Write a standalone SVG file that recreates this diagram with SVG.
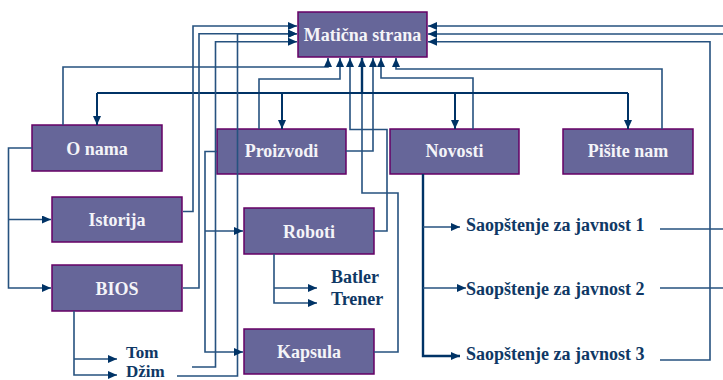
<svg xmlns="http://www.w3.org/2000/svg" width="723" height="380" viewBox="0 0 723 380">
<style>
.box{fill:#666699;stroke:#660066;stroke-width:1.5}
.bt{font-family:"Liberation Serif","Times New Roman",serif;font-weight:bold;font-size:18px;fill:#f4f4f8;text-anchor:middle}
.lb{font-family:"Liberation Serif","Times New Roman",serif;font-weight:bold;font-size:18px;fill:#0f3865}
.sm{font-size:17px}
.c{fill:none;stroke:#26527f;stroke-width:1.6}
.k{fill:none;stroke:#003366;stroke-width:2}
.kk{fill:none;stroke:#003366;stroke-width:2.4}
</style>
<defs>
<marker id="ah" markerWidth="9" markerHeight="8" refX="9" refY="4" orient="auto" markerUnits="userSpaceOnUse">
<path d="M0,0 L9,4 L0,8 z" fill="#003366"/>
</marker>
</defs>
<g id="maticna-strana">
<rect class="box" x="298" y="12" width="129" height="45"/>
<text class="bt" x="362.5" y="41">Matična strana</text>
</g>
<g id="o-nama">
<rect class="box" x="32" y="125" width="130" height="46"/>
<text class="bt" x="97" y="155">O nama</text>
</g>
<g id="istorija">
<rect class="box" x="52" y="197" width="130" height="45"/>
<text class="bt" x="117" y="226">Istorija</text>
</g>
<g id="bios">
<rect class="box" x="52" y="265" width="130" height="46"/>
<text class="bt" x="117" y="295">BIOS</text>
</g>
<g id="proizvodi">
<rect class="box" x="217" y="129" width="129" height="45"/>
<text class="bt" x="281.5" y="157">Proizvodi</text>
</g>
<g id="novosti">
<rect class="box" x="390" y="129" width="129" height="45"/>
<text class="bt" x="454.5" y="157">Novosti</text>
</g>
<g id="pisite-nam">
<rect class="box" x="563" y="129" width="130" height="45"/>
<text class="bt" x="628" y="157">Pišite nam</text>
</g>
<g id="roboti">
<rect class="box" x="244" y="208" width="130" height="46"/>
<text class="bt" x="309" y="238">Roboti</text>
</g>
<g id="kapsula">
<rect class="box" x="244" y="329" width="130" height="45"/>
<text class="bt" x="309" y="358">Kapsula</text>
</g>
<g id="tom"><text class="lb sm" x="126" y="358">Tom</text></g>
<g id="dzim"><text class="lb sm" x="126" y="377">Džim</text></g>
<g id="batler"><text class="lb" x="331" y="283">Batler</text></g>
<g id="trener"><text class="lb" x="331" y="305">Trener</text></g>
<g id="saopstenje-1"><text class="lb" x="466" y="231">Saopštenje za javnost 1</text></g>
<g id="saopstenje-2"><text class="lb" x="466" y="295">Saopštenje za javnost 2</text></g>
<g id="saopstenje-3"><text class="lb" x="466" y="360">Saopštenje za javnost 3</text></g>
<g id="connectors">
<path class="c" d="M63,125 V67 H328 V58" marker-end="url(#ah)"/>
<path class="c" d="M259,129 V79 H340 V58" marker-end="url(#ah)"/>
<path class="c" d="M374,231 H387 V129.5 H350 V58" marker-end="url(#ah)"/>
<path class="c" d="M374,352 H398 V193 H362 V58" marker-end="url(#ah)"/>
<path class="c" d="M346,151 H373 V58" marker-end="url(#ah)"/>
<path class="c" d="M473,129 V78 H381 V58" marker-end="url(#ah)"/>
<path class="c" d="M662,129 V69 H396 V58" marker-end="url(#ah)"/>
<path class="kk" d="M362,58 V93"/>
<path class="k" d="M97,93 H628"/>
<path class="k" d="M97,93 V125" marker-end="url(#ah)"/>
<path class="k" d="M282,93 V129" marker-end="url(#ah)"/>
<path class="k" d="M455,93 V129" marker-end="url(#ah)"/>
<path class="k" d="M628,93 V129" marker-end="url(#ah)"/>
<path class="c" d="M183,211.5 H193 V26 H297" marker-end="url(#ah)"/>
<path class="c" d="M183,288 H199 V33.7 H297" marker-end="url(#ah)"/>
<path class="c" d="M192,367 H215.5 V41.7 H297" marker-end="url(#ah)"/>
<path class="c" d="M177,376 H237.5 V33.7 H297" marker-end="url(#ah)"/>
<path class="c" d="M660,360 H710 V41.7 H428" marker-end="url(#ah)"/>
<path class="c" d="M660,229 H735 V26 H428" marker-end="url(#ah)"/>
<path class="c" d="M660,288 H745 V34 H428" marker-end="url(#ah)"/>
<path class="c" d="M32,148 H8.5 V288 H51" marker-end="url(#ah)"/>
<path class="c" d="M8.5,219.5 H51" marker-end="url(#ah)"/>
<path class="c" d="M74,311 V375 H117" marker-end="url(#ah)"/>
<path class="c" d="M74,359 H117" marker-end="url(#ah)"/>
<path class="c" d="M217,151.5 H205 V352 H243" marker-end="url(#ah)"/>
<path class="c" d="M205,231 H243" marker-end="url(#ah)"/>
<path class="c" d="M274,254 V303 H317" marker-end="url(#ah)"/>
<path class="c" d="M274,288 H317" marker-end="url(#ah)"/>
<path class="kk" d="M423,174 V356 H460" marker-end="url(#ah)"/>
<path class="c" d="M423,227 H460" marker-end="url(#ah)"/>
<path class="c" d="M423,288 H466" marker-end="url(#ah)"/>
</g>
</svg>
